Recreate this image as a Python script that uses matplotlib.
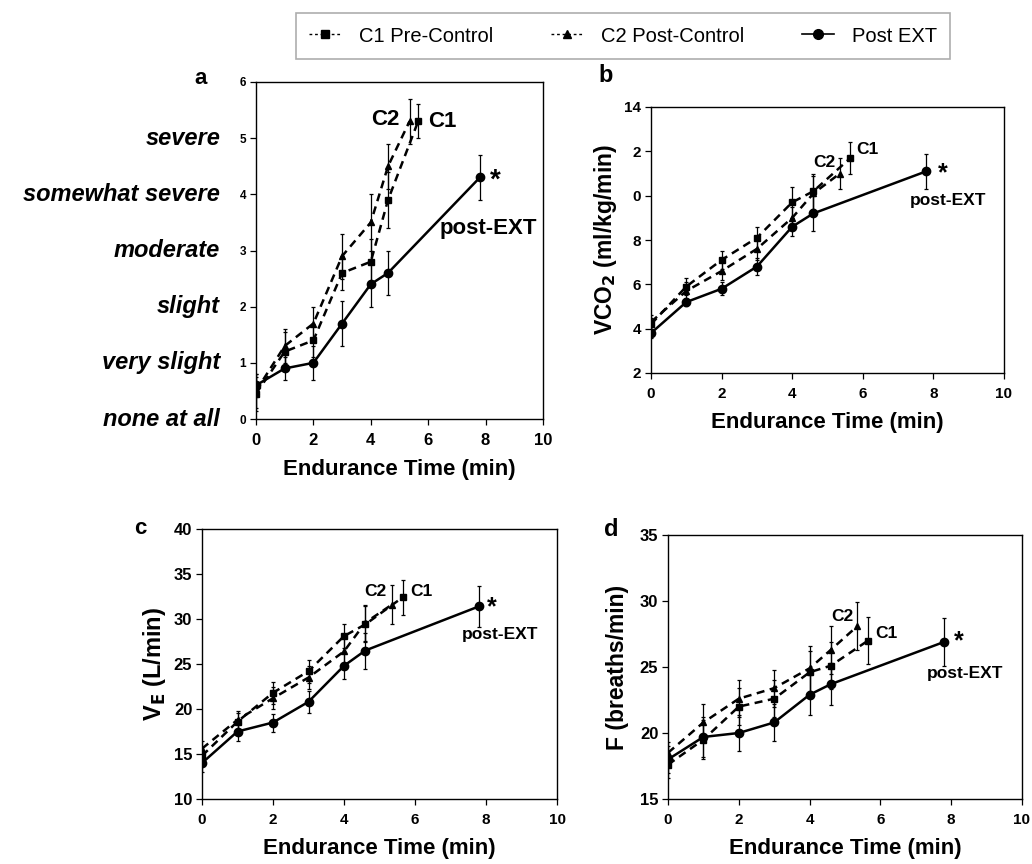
import matplotlib
matplotlib.use("Agg")
import matplotlib.pyplot as plt
from matplotlib.lines import Line2D

plt.rcParams['font.family'] = ['Liberation Sans', 'DejaVu Sans']

# ---------------- data ----------------
t_c1 = [0, 1, 2, 3, 4, 4.6, 5.65]
t_c2 = [0, 1, 2, 3, 4, 4.6, 5.35]
t_ext = [0, 1, 2, 3, 4, 4.6, 7.8]

# panel a: dyspnea (Borg)
a_c1 = [0.45, 1.2, 1.4, 2.6, 2.8, 3.9, 5.3]
a_c1_err = [0.3, 0.35, 0.3, 0.3, 0.4, 0.5, 0.3]
a_c2 = [0.5, 1.3, 1.7, 2.9, 3.5, 4.5, 5.3]
a_c2_err = [0.3, 0.3, 0.3, 0.4, 0.5, 0.4, 0.4]
a_ext = [0.6, 0.9, 1.0, 1.7, 2.4, 2.6, 4.3]
a_ext_err = [0.2, 0.2, 0.3, 0.4, 0.4, 0.4, 0.4]
a_cat_labels = ['none at all', 'very slight', 'slight', 'moderate',
                'somewhat severe', 'severe']

# panel b: VCO2
b_c1 = [4.2, 5.9, 7.1, 8.1, 9.7, 10.2, 11.7]
b_c1_err = [0.3, 0.4, 0.4, 0.5, 0.7, 0.8, 0.7]
b_c2 = [4.3, 5.7, 6.6, 7.6, 9.0, 10.1, 11.0]
b_c2_err = [0.3, 0.4, 0.4, 0.5, 0.5, 0.8, 0.7]
b_ext = [3.8, 5.2, 5.8, 6.8, 8.6, 9.2, 11.1]
b_ext_err = [0.2, 0.2, 0.3, 0.4, 0.4, 0.8, 0.8]
b_ytick_labels = ['2', '4', '6', '8', '0', '2', '14']

# panel c: VE
c_c1 = [14.8, 18.6, 21.8, 24.2, 28.1, 29.4, 32.4]
c_c1_err = [1.0, 1.0, 1.2, 1.3, 1.3, 2.0, 1.9]
c_c2 = [15.6, 18.8, 21.2, 23.5, 26.4, 29.6, 31.6]
c_c2_err = [0.8, 1.0, 1.2, 1.3, 1.5, 2.0, 2.2]
c_ext = [14.0, 17.5, 18.5, 20.8, 24.8, 26.5, 31.4]
c_ext_err = [1.0, 1.0, 1.0, 1.2, 1.5, 2.0, 2.3]

# panel d: breathing frequency
d_c1 = [17.6, 19.5, 22.0, 22.6, 24.6, 25.1, 27.0]
d_c1_err = [1.0, 1.5, 1.4, 1.4, 1.6, 1.8, 1.8]
d_c2 = [18.5, 20.8, 22.6, 23.4, 24.9, 26.3, 28.1]
d_c2_err = [0.8, 1.4, 1.4, 1.4, 1.7, 1.8, 1.8]
d_ext = [18.0, 19.7, 20.0, 20.8, 22.9, 23.7, 26.9]
d_ext_err = [1.0, 1.5, 1.4, 1.4, 1.5, 1.6, 1.8]

# ---------------- figure ----------------
fig = plt.figure(figsize=(10.32, 8.64), dpi=100)

W, H = 1032, 864
def rect(l, t, r, b):
    return [l / W, (H - b) / H, (r - l) / W, (b - t) / H]

ax_a = fig.add_axes(rect(256, 82, 543, 419))
ax_b = fig.add_axes(rect(651, 107, 1004, 373))
ax_c = fig.add_axes(rect(202, 529, 557, 799))
ax_d = fig.add_axes(rect(668, 535, 1022, 799))

DASH = (0, (3.2, 2.2))
def draw(ax, c1, c1e, c2, c2e, ext, exte):
    kw = dict(color='black', ecolor='black', elinewidth=0.9, capsize=1.5,
              capthick=0.9, lw=1.8)
    ax.errorbar(t_c1, c1, yerr=c1e, marker='s', ms=4.5, ls=DASH, **kw)
    ax.errorbar(t_c2, c2, yerr=c2e, marker='^', ms=5, ls=DASH, **kw)
    ax.errorbar(t_ext, ext, yerr=exte, marker='o', ms=6, ls='-', **kw)

def style(ax, xtick_fs=11, ytick_fs=11):
    ax.set_xlim(0, 10)
    ax.set_xticks([0, 2, 4, 6, 8, 10])
    ax.tick_params(direction='out', length=4, width=0.9, pad=3)
    ax.tick_params(axis='x', labelsize=xtick_fs, pad=6)
    ax.tick_params(axis='y', labelsize=ytick_fs)
    for lab in ax.get_xticklabels() + ax.get_yticklabels():
        lab.set_fontweight('bold')
    for s in ax.spines.values():
        s.set_linewidth(1.0)
    ax.set_xlabel('Endurance Time (min)', fontsize=16, fontweight='bold',
                  labelpad=8)

# panel a
draw(ax_a, a_c1, a_c1_err, a_c2, a_c2_err, a_ext, a_ext_err)
ax_a.set_ylim(0, 6)
ax_a.set_yticks(range(7))
style(ax_a, xtick_fs=12, ytick_fs=8.5)
for v, lab in enumerate(a_cat_labels):
    ax_a.text(-0.125, v, lab, transform=ax_a.get_yaxis_transform(),
              ha='right', va='center', fontsize=17, fontweight='bold',
              fontstyle='italic')
ax_a.text(-0.17, 1.01, 'a', transform=ax_a.transAxes, ha='right', va='center',
          fontsize=16, fontweight='bold')
ax_a.text(5.0, 5.33, 'C2', ha='right', va='center', fontsize=16, fontweight='bold')
ax_a.text(6.0, 5.3, 'C1', ha='left', va='center', fontsize=16, fontweight='bold')
ax_a.text(8.15, 4.25, '*', ha='left', va='center', fontsize=20, fontweight='bold')
ax_a.text(6.4, 3.4, 'post-EXT', ha='left', va='center', fontsize=16, fontweight='bold')

# panel b
draw(ax_b, b_c1, b_c1_err, b_c2, b_c2_err, b_ext, b_ext_err)
ax_b.set_ylim(2, 14)
ax_b.set_yticks([2, 4, 6, 8, 10, 12, 14])
ax_b.set_yticklabels(b_ytick_labels)
style(ax_b)
ax_b.set_ylabel('VCO$_\\mathbf{2}$ (ml/kg/min)', fontsize=16.5, fontweight='bold',
                labelpad=4)
ax_b.text(-0.15, 1.12, 'b', transform=ax_b.transAxes, ha='left', va='center',
          fontsize=17, fontweight='bold')
ax_b.text(5.22, 11.5, 'C2', ha='right', va='center', fontsize=12.5, fontweight='bold')
ax_b.text(5.82, 12.1, 'C1', ha='left', va='center', fontsize=12.5, fontweight='bold')
ax_b.text(8.13, 11.0, '*', ha='left', va='center', fontsize=18, fontweight='bold')
ax_b.text(7.33, 9.8, 'post-EXT', ha='left', va='center', fontsize=12.5, fontweight='bold')

# panel c
draw(ax_c, c_c1, c_c1_err, c_c2, c_c2_err, c_ext, c_ext_err)
ax_c.set_ylim(10, 40)
ax_c.set_yticks([10, 15, 20, 25, 30, 35, 40])
style(ax_c, ytick_fs=12)
ax_c.set_ylabel('V$_\\mathbf{E}$ (L/min)', fontsize=17, fontweight='bold',
                labelpad=4)
ax_c.text(-0.19, 1.0, 'c', transform=ax_c.transAxes, ha='left', va='center',
          fontsize=16, fontweight='bold')
ax_c.text(5.21, 33.0, 'C2', ha='right', va='center', fontsize=12.5, fontweight='bold')
ax_c.text(5.87, 33.1, 'C1', ha='left', va='center', fontsize=12.5, fontweight='bold')
ax_c.text(8.03, 31.3, '*', ha='left', va='center', fontsize=18, fontweight='bold')
ax_c.text(7.32, 28.3, 'post-EXT', ha='left', va='center', fontsize=12.5, fontweight='bold')

# panel d
draw(ax_d, d_c1, d_c1_err, d_c2, d_c2_err, d_ext, d_ext_err)
ax_d.set_ylim(15, 35)
ax_d.set_yticks([15, 20, 25, 30, 35])
style(ax_d, ytick_fs=12)
ax_d.set_ylabel('F (breaths/min)', fontsize=16.5, fontweight='bold', labelpad=8)
ax_d.text(-0.18, 1.02, 'd', transform=ax_d.transAxes, ha='left', va='center',
          fontsize=17, fontweight='bold')
ax_d.text(5.24, 28.8, 'C2', ha='right', va='center', fontsize=12.5, fontweight='bold')
ax_d.text(5.85, 27.5, 'C1', ha='left', va='center', fontsize=12.5, fontweight='bold')
ax_d.text(8.07, 26.95, '*', ha='left', va='center', fontsize=18, fontweight='bold')
ax_d.text(7.31, 24.5, 'post-EXT', ha='left', va='center', fontsize=12.5, fontweight='bold')

# legend
handles = [
    Line2D([], [], color='black', ls=(0, (2, 2)), lw=1.0, marker='s', ms=6),
    Line2D([], [], color='black', ls=(0, (2, 2)), lw=1.0, marker='^', ms=6),
    Line2D([], [], color='black', ls='-', lw=1.2, marker='o', ms=7),
]
labels = ['C1 Pre-Control', 'C2 Post-Control', 'Post EXT']
leg = fig.legend(handles, labels, ncol=3, loc='center',
                 bbox_to_anchor=(623 / W, 1 - 36 / H), frameon=True,
                 fancybox=False, edgecolor='#999999', fontsize=14.5,
                 handlelength=1.6, columnspacing=2.9, handletextpad=0.85,
                 borderpad=0.65, borderaxespad=0)
leg.get_frame().set_linewidth(1.2)

fig.savefig('out.png', dpi=100)
